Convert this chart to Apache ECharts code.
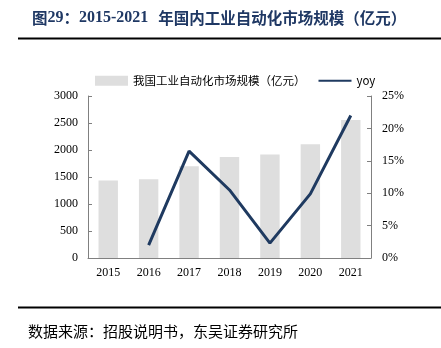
<!DOCTYPE html>
<html><head><meta charset="utf-8">
<script src="https://cdn.jsdelivr.net/npm/echarts@6/dist/echarts.min.js"></script>
<style>html,body{margin:0;padding:0;background:#fff}#c{width:441px;height:348px}</style>
</head><body><div id="c"></div>
<script>
const years = ['2015','2016','2017','2018','2019','2020','2021'];
const marketSize = [1435, 1459, 1700, 1872, 1915, 2106, 2555];
const yoy = [null, 2.0, 16.5, 10.5, 2.3, 9.9, 22.0];
const leftTicks = [0, 500, 1000, 1500, 2000, 2500, 3000];
const rightTicks = [0, 5, 10, 15, 20, 25];

const chart = echarts.init(document.getElementById('c'), null, {renderer:'canvas'});
const serif = '"Liberation Serif", "Times New Roman", serif';
const cjk = '"Noto Sans CJK SC", sans-serif';
chart.setOption({
  animation: false,
  backgroundColor: '#fff',
  title: {
    text: '{c|图}{n|29}{c|：}{n|2015-2021}  {c|年国内工业自动化市场规模（亿元）}',
    left: 27, top: 4,
    textStyle: {
      rich: {
        c: {color: '#1f3864', fontSize: 15.5, fontWeight: 'bold', fontFamily: cjk},
        n: {color: '#1f3864', fontSize: 16, fontWeight: 'bold', fontFamily: serif}
      }
    }
  },
  graphic: [
    {type:'line', shape:{x1:18, y1:38.5, x2:441, y2:38.5}, style:{stroke:'#000', lineWidth:2}},
    {type:'line', shape:{x1:18, y1:307.5, x2:441, y2:307.5}, style:{stroke:'#000', lineWidth:2}},
    {type:'text', left: 28, top: 324, style:{text:'数据来源：招股说明书，东吴证券研究所', fill:'#000', font:'15px "Noto Sans CJK SC", sans-serif'}}
  ],
  legend: {
    top: 70, left: 90,
    itemWidth: 33, itemHeight: 10, itemGap: 12,
    textStyle: {fontSize: 11.5, color: '#000', fontFamily: cjk},
    data: [
      {name: '我国工业自动化市场规模（亿元）', icon: 'rect'},
      {name: 'yoy', itemStyle: {opacity: 0}}
    ]
  },
  grid: {left: 88, right: 70, top: 96, bottom: 90},
  xAxis: {
    type: 'category', data: years,
    axisLine: {lineStyle: {color: '#808080'}},
    axisTick: {inside: true, length: 4, lineStyle: {color: '#808080'}},
    axisLabel: {color: '#000', fontSize: 12, fontFamily: serif, margin: 9}
  },
  yAxis: [
    {type: 'value', min: 0, max: 3000, interval: 500,
     axisLine: {show: true, lineStyle: {color: '#808080'}},
     axisTick: {show: true, inside: true, length: 4, lineStyle: {color: '#808080'}},
     splitLine: {show: false},
     axisLabel: {color: '#000', fontSize: 12, fontFamily: serif, margin: 10, formatter: v => String(v)}},
    {type: 'value', min: 0, max: 25, interval: 5,
     axisLine: {show: true, lineStyle: {color: '#808080'}},
     axisTick: {show: true, inside: true, length: 4, lineStyle: {color: '#808080'}},
     splitLine: {show: false},
     axisLabel: {color: '#000', fontSize: 12, fontFamily: serif, margin: 11, formatter: '{value}%'}}
  ],
  series: [
    {name: '我国工业自动化市场规模（亿元）', type: 'bar', data: marketSize, barWidth: '48%',
     itemStyle: {color: '#dedede'}},
    {name: 'yoy', type: 'line', yAxisIndex: 1, data: yoy, symbol: 'none',
     lineStyle: {color: '#1f3a60', width: 3}, itemStyle: {color: '#1f3a60'}}
  ]
});
</script></body></html>
